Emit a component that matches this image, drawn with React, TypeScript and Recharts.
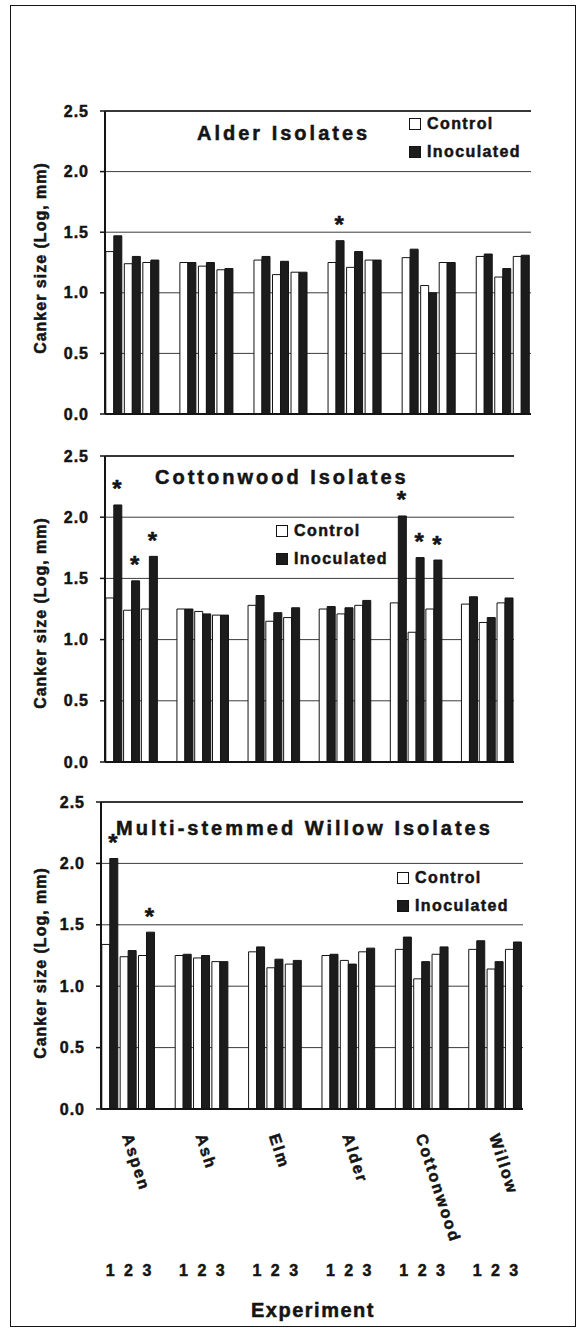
import React from "react";
import { BarChart, Bar, XAxis, YAxis, CartesianGrid, ReferenceLine, LabelList } from "recharts";

const trees = ["Aspen", "Ash", "Elm", "Alder", "Cottonwood", "Willow"];
const experiments = ["1", "2", "3"];
const yTicks = [0, 0.5, 1, 1.5, 2, 2.5];

// values per tree x experiment (Aspen 1-3, Ash 1-3, Elm 1-3, Alder 1-3, Cottonwood 1-3, Willow 1-3)
const alderControl = [1.34, 1.24, 1.25, 1.25, 1.22, 1.19, 1.27, 1.15, 1.17, 1.25, 1.21, 1.27, 1.29, 1.06, 1.25, 1.3, 1.13, 1.3];
const alderInoculated = [1.47, 1.3, 1.27, 1.25, 1.25, 1.2, 1.3, 1.26, 1.17, 1.43, 1.34, 1.27, 1.36, 1.0, 1.25, 1.32, 1.2, 1.31];
const alderSignificant = [9];

const cottonwoodControl = [1.34, 1.24, 1.25, 1.25, 1.23, 1.2, 1.28, 1.15, 1.18, 1.25, 1.21, 1.28, 1.3, 1.06, 1.25, 1.29, 1.14, 1.3];
const cottonwoodInoculated = [2.1, 1.48, 1.68, 1.25, 1.21, 1.2, 1.36, 1.22, 1.26, 1.27, 1.26, 1.32, 2.01, 1.67, 1.65, 1.35, 1.18, 1.34];
const cottonwoodSignificant = [0, 1, 2, 12, 13, 14];

const willowControl = [1.34, 1.24, 1.25, 1.25, 1.23, 1.2, 1.28, 1.15, 1.18, 1.25, 1.21, 1.28, 1.3, 1.06, 1.26, 1.3, 1.14, 1.3];
const willowInoculated = [2.04, 1.29, 1.44, 1.26, 1.25, 1.2, 1.32, 1.22, 1.21, 1.26, 1.18, 1.31, 1.4, 1.2, 1.32, 1.37, 1.2, 1.36];
const willowSignificant = [0, 2];

const FONT = "'Liberation Sans', Arial, Helvetica, sans-serif";
const INK = "#141414";
// the scanned figure uses a heavy face, thicken bold glyphs a bit
const HEAVY = { WebkitTextStroke: `0.5px ${INK}` } as React.CSSProperties;

type Row = { key: string; tree?: string; exp?: string; control?: number; inoculated?: number; sig?: boolean };

function buildRows(control: number[], inoc: number[], sig: number[]): Row[] {
  const rows: Row[] = [];
  trees.forEach((tree, t) => {
    experiments.forEach((exp, e) => {
      const i = t * experiments.length + e;
      rows.push({ key: `${tree}-${exp}`, tree, exp, control: control[i], inoculated: inoc[i], sig: sig.includes(i) });
    });
    if (t < trees.length - 1) rows.push({ key: `gap-${t}` });
  });
  return rows;
}

const renderStar = (props: any) => {
  const { x, y, width, value } = props;
  if (!value) return null;
  return (
    <text x={x + width / 2 - 1} y={y - 7.5} textAnchor="middle" fontSize={24} fontWeight="bold" fontFamily={FONT} fill={INK} stroke={INK} strokeWidth={0.5}>
      *
    </text>
  );
};

const YTick = (props: any) => {
  const { x, y, payload } = props;
  return (
    <text x={x} y={y} dy={5.5} textAnchor="end" fontSize={16} fontWeight="bold" fontFamily={FONT} fill={INK} stroke={INK} strokeWidth={0.5} letterSpacing={1}>
      {Number(payload.value).toFixed(1)}
    </text>
  );
};

const ExperimentTick = (props: any) => {
  const { x, y, payload } = props;
  const key = String(payload.value);
  if (key.startsWith("gap")) return null;
  const [tree, exp] = key.split("-");
  return (
    <g>
      <text x={x} y={y + 167} textAnchor="middle" fontSize={16} fontWeight="bold" fontFamily={FONT} fill={INK} stroke={INK} strokeWidth={0.5}>
        {exp}
      </text>
      {exp === "2" && (
        <text
          x={x - 6.5}
          y={y + 27}
          transform={`rotate(72 ${x - 6.5} ${y + 27})`}
          fontSize={16}
          fontWeight="bold"
          fontFamily={FONT}
          fill={INK}
          stroke={INK}
          strokeWidth={0.5}
          letterSpacing={2}
        >
          {tree}
        </text>
      )}
    </g>
  );
};

type PanelProps = {
  title: string;
  rows: Row[];
  chartTop: number;
  plotTop: number;
  plotBottom: number;
  plotLeft: number;
  plotRight: number;
  titleX: number;
  titleY: number;
  legendX: number;
  legendY: number;
  axisTitleY: number;
  showCategories?: boolean;
};

function Panel(p: PanelProps) {
  const xAxisHeight = p.showCategories ? 220 : 16;
  const marginTop = p.plotTop - p.chartTop;
  const height = marginTop + (p.plotBottom - p.plotTop) + xAxisHeight;
  const yAxisWidth = 60;
  return (
    <>
      <div style={{ position: "absolute", left: 0, top: p.chartTop }}>
        <BarChart
          width={584}
          height={height}
          data={p.rows}
          margin={{ top: marginTop, right: 584 - p.plotRight, bottom: 0, left: p.plotLeft - yAxisWidth }}
          barCategoryGap={0.8}
          barGap={0}
        >
          <CartesianGrid vertical={false} stroke="#3c3c3c" strokeWidth={1} />
          <XAxis
            dataKey="key"
            interval={0}
            height={xAxisHeight}
            axisLine={{ stroke: INK, strokeWidth: 2 }}
            tickLine={false}
            tickSize={0}
            tickMargin={0}
            tick={p.showCategories ? <ExperimentTick /> : false}
          />
          <YAxis
            domain={[0, 2.5]}
            ticks={yTicks}
            width={yAxisWidth}
            axisLine={{ stroke: INK, strokeWidth: 2 }}
            tickLine={{ stroke: INK, strokeWidth: 1.5 }}
            tickSize={5}
            tickMargin={11}
            tick={<YTick />}
            allowDataOverflow
          />
          <YAxis
            yAxisId="frame"
            orientation="right"
            domain={[0, 2.5]}
            width={0}
            tick={false}
            tickLine={false}
            axisLine={{ stroke: INK, strokeWidth: 1.5 }}
          />
          <ReferenceLine y={2.5} stroke={INK} strokeWidth={1.5} />
          <Bar dataKey="control" fill="#ffffff" stroke={INK} strokeWidth={1} isAnimationActive={false} />
          <Bar dataKey="inoculated" fill="#1c1c1c" stroke={INK} strokeWidth={1} isAnimationActive={false}>
            <LabelList dataKey="sig" content={renderStar} />
          </Bar>
        </BarChart>
      </div>
      <div
        style={{
          position: "absolute",
          left: p.titleX,
          top: p.titleY - 12,
          fontSize: 20,
          lineHeight: "24px",
          fontWeight: "bold",
          letterSpacing: 3,
          whiteSpace: "nowrap",
          color: INK,
          ...HEAVY,
        }}
      >
        {p.title}
      </div>
      <Legend x={p.legendX} y={p.legendY} />
      <div
        style={{
          position: "absolute",
          left: 41,
          top: p.axisTitleY,
          transform: "translate(-50%, -50%) rotate(-90deg)",
          fontSize: 16,
          lineHeight: "18px",
          fontWeight: "bold",
          letterSpacing: 1,
          whiteSpace: "nowrap",
          color: INK,
          ...HEAVY,
        }}
      >
        Canker size (Log, mm)
      </div>
    </>
  );
}

function Legend({ x, y }: { x: number; y: number }) {
  const items = [
    { name: "Control", fill: "#ffffff" },
    { name: "Inoculated", fill: "#1c1c1c" },
  ];
  return (
    <>
      {items.map((it, i) => (
        <div key={it.name} style={{ position: "absolute", left: x, top: y + i * 28 - 9, display: "flex", alignItems: "center", height: 18 }}>
          <span style={{ width: 10, height: 10, background: it.fill, border: `1px solid ${INK}`, marginRight: 6 }} />
          <span style={{ fontSize: 16, fontWeight: "bold", letterSpacing: 1.4, color: INK, whiteSpace: "nowrap", ...HEAVY }}>{it.name}</span>
        </div>
      ))}
    </>
  );
}

export default function App() {
  const alderRows = buildRows(alderControl, alderInoculated, alderSignificant);
  const cottonwoodRows = buildRows(cottonwoodControl, cottonwoodInoculated, cottonwoodSignificant);
  const willowRows = buildRows(willowControl, willowInoculated, willowSignificant);

  return (
    <div style={{ position: "absolute", left: 0, top: 0, width: 584, height: 1334, background: "#fff", fontFamily: FONT, overflow: "hidden" }}>
      <div style={{ position: "absolute", left: 10, top: 5, width: 566, height: 1322, border: `1.5px solid ${INK}`, boxSizing: "border-box" }} />
      <Panel
        title="Alder Isolates"
        rows={alderRows}
        chartTop={100}
        plotTop={111}
        plotBottom={414}
        plotLeft={105}
        plotRight={531}
        titleX={197}
        titleY={133}
        legendX={409}
        legendY={124}
        axisTitleY={258}
      />
      <Panel
        title="Cottonwood Isolates"
        rows={cottonwoodRows}
        chartTop={444}
        plotTop={456}
        plotBottom={762}
        plotLeft={105}
        plotRight={514}
        titleX={155}
        titleY={477}
        legendX={276}
        legendY={531}
        axisTitleY={613}
      />
      <Panel
        title="Multi-stemmed Willow Isolates"
        rows={willowRows}
        chartTop={790}
        plotTop={802}
        plotBottom={1109}
        plotLeft={101}
        plotRight={523}
        titleX={116}
        titleY={828}
        legendX={397}
        legendY={878}
        axisTitleY={963}
        showCategories
      />
      <div
        style={{
          position: "absolute",
          left: 313,
          top: 1310,
          transform: "translate(-50%, -50%)",
          fontSize: 20,
          fontWeight: "bold",
          letterSpacing: 1.5,
          whiteSpace: "nowrap",
          color: INK,
          ...HEAVY,
        }}
      >
        Experiment
      </div>
    </div>
  );
}
